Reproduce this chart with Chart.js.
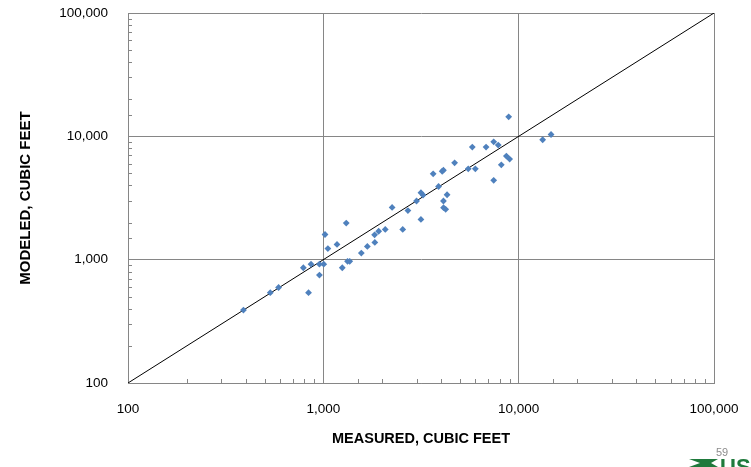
<!DOCTYPE html>
<html>
<head>
<meta charset="utf-8">
<script src="https://cdn.jsdelivr.net/npm/chart.js@4"></script>
<style>
  html, body { margin: 0; padding: 0; background: #fff; }
  #wrap { width: 751px; height: 467px; position: relative; }
</style>
</head>
<body>
<div id="wrap"><canvas id="scatterChart"></canvas></div>
<script>
// measured vs modeled volumes, cubic feet
const measured = [390, 535, 590, 840, 790, 865, 955, 1005, 955, 1020, 1055, 1175, 1310, 1250, 1330, 1365,
  1565, 1680, 1835, 1830, 1920, 2075, 2250, 2550, 2710, 3160, 3000, 3160, 3240, 3650, 3890, 4060, 4120,
  4120, 4300, 4125, 4230, 4700, 5520, 6000, 5790, 6810, 7450, 7450, 7860, 8150, 8650, 8990, 8890, 13270, 14650];
const modeled = [390, 540, 595, 540, 860, 920, 920, 920, 750, 1600, 1230, 1330, 1980, 860, 970, 970,
  1130, 1280, 1380, 1590, 1700, 1760, 2650, 1760, 2500, 2120, 2990, 3490, 3340, 4970, 3920, 5210, 5320,
  2990, 3360, 2640, 2560, 6100, 5450, 5450, 8190, 8190, 4400, 9020, 8490, 5870, 6920, 6540, 14390, 9380, 10350];
// 1:1 line
const lineX = [100, 100000];
const lineY = [100, 100000];
const axisMin = 100;
const axisMax = 100000;

const gray = '#868686';

function isMajor(v) {
    const l = Math.log10(v);
    return Math.abs(l - Math.round(l)) < 1e-9;
}

// drop the label padding chart.js adds around the plot so the box sits where the original does
function noScalePadding(s) {
    s.paddingTop = 0;
    s.paddingBottom = 0;
    s.paddingLeft = 0;
    s.paddingRight = 0;
}

// small inward tick marks at 2..9 of each decade, like the original
const minorTicks = {
    id: 'minorTicks',
    afterDatasetsDraw(chart) {
        const ctx = chart.ctx;
        const area = chart.chartArea;
        ctx.save();
        ctx.strokeStyle = gray;
        ctx.lineWidth = 1;
        chart.scales.x.ticks.forEach(t => {
            if (isMajor(t.value)) return;
            const px = Math.round(chart.scales.x.getPixelForValue(t.value)) + 0.5;
            ctx.beginPath();
            ctx.moveTo(px, area.bottom);
            ctx.lineTo(px, area.bottom - 4);
            ctx.stroke();
        });
        chart.scales.y.ticks.forEach(t => {
            if (isMajor(t.value)) return;
            const py = Math.round(chart.scales.y.getPixelForValue(t.value)) + 0.5;
            ctx.beginPath();
            ctx.moveTo(area.left, py);
            ctx.lineTo(area.left + 4, py);
            ctx.stroke();
        });
        ctx.restore();
    }
};

// slide number and logo corner
const slideFooter = {
    id: 'slideFooter',
    afterDraw(chart) {
        const ctx = chart.ctx;
        ctx.save();
        ctx.fillStyle = '#1f7a3c';
        ctx.beginPath();
        ctx.moveTo(689, 459);
        ctx.lineTo(718, 459);
        ctx.lineTo(711, 463);
        ctx.lineTo(718, 467);
        ctx.lineTo(689, 467);
        ctx.lineTo(700, 463);
        ctx.closePath();
        ctx.fill();
        ctx.textAlign = 'left';
        ctx.textBaseline = 'alphabetic';
        ctx.font = 'bold 22px "Liberation Sans", Arial, sans-serif';
        ctx.fillText('USGS', 720, 474);
        ctx.fillStyle = '#8c8c8c';
        ctx.font = '11px "Liberation Sans", Arial, sans-serif';
        ctx.fillText('59', 716, 456);
        ctx.restore();
    }
};

const points = measured.map((m, i) => ({ x: m, y: modeled[i] }));
const linePts = lineX.map((v, i) => ({ x: v, y: lineY[i] }));

const ctx = document.getElementById('scatterChart').getContext('2d');
new Chart(ctx, {
    type: 'scatter',
    data: {
        datasets: [{
            label: 'Modeled vs measured',
            data: points,
            pointStyle: 'rectRot',
            pointRadius: 3.4,
            pointHoverRadius: 3.4,
            backgroundColor: '#4f81bd',
            borderColor: '#4f81bd',
            borderWidth: 0,
            order: 1
        }, {
            label: '1:1',
            type: 'line',
            data: linePts,
            borderColor: '#000',
            borderWidth: 1,
            pointRadius: 0,
            fill: false,
            order: 2
        }]
    },
    options: {
        responsive: true,
        maintainAspectRatio: false,
        animation: false,
        layout: { padding: { top: 13, right: 37, bottom: 0, left: 0 } },
        plugins: {
            legend: { display: false },
            tooltip: { enabled: false }
        },
        scales: {
            x: {
                type: 'logarithmic',
                min: axisMin,
                max: axisMax,
                afterFit: s => { s.height = 84; noScalePadding(s); },
                border: { color: gray, width: 1 },
                grid: {
                    drawTicks: false,
                    color: c => isMajor(c.tick.value) ? gray : 'rgba(0,0,0,0)'
                },
                ticks: {
                    autoSkip: false,
                    maxRotation: 0,
                    padding: 18,
                    color: '#000',
                    font: { family: '"Liberation Sans", Arial, sans-serif', size: 13.5 },
                    callback: v => isMajor(v) ? Number(v).toLocaleString('en-US') : ''
                },
                title: {
                    display: true,
                    text: 'MEASURED, CUBIC FEET',
                    color: '#000',
                    font: { family: '"Liberation Sans", Arial, sans-serif', size: 14.5, weight: 'bold' },
                    padding: { top: 0, bottom: 19 }
                }
            },
            y: {
                type: 'logarithmic',
                min: axisMin,
                max: axisMax,
                afterFit: s => { s.width = 128; noScalePadding(s); },
                border: { color: gray, width: 1 },
                grid: {
                    drawTicks: false,
                    color: c => isMajor(c.tick.value) ? gray : 'rgba(0,0,0,0)'
                },
                ticks: {
                    autoSkip: false,
                    padding: 20,
                    color: '#000',
                    font: { family: '"Liberation Sans", Arial, sans-serif', size: 13.5 },
                    callback: v => isMajor(v) ? Number(v).toLocaleString('en-US') : ''
                },
                title: {
                    display: true,
                    text: 'MODELED, CUBIC FEET',
                    color: '#000',
                    font: { family: '"Liberation Sans", Arial, sans-serif', size: 15, weight: 'bold' },
                    padding: { top: 17, bottom: 0 }
                }
            }
        }
    },
    plugins: [minorTicks, slideFooter]
});
</script>
</body>
</html>
